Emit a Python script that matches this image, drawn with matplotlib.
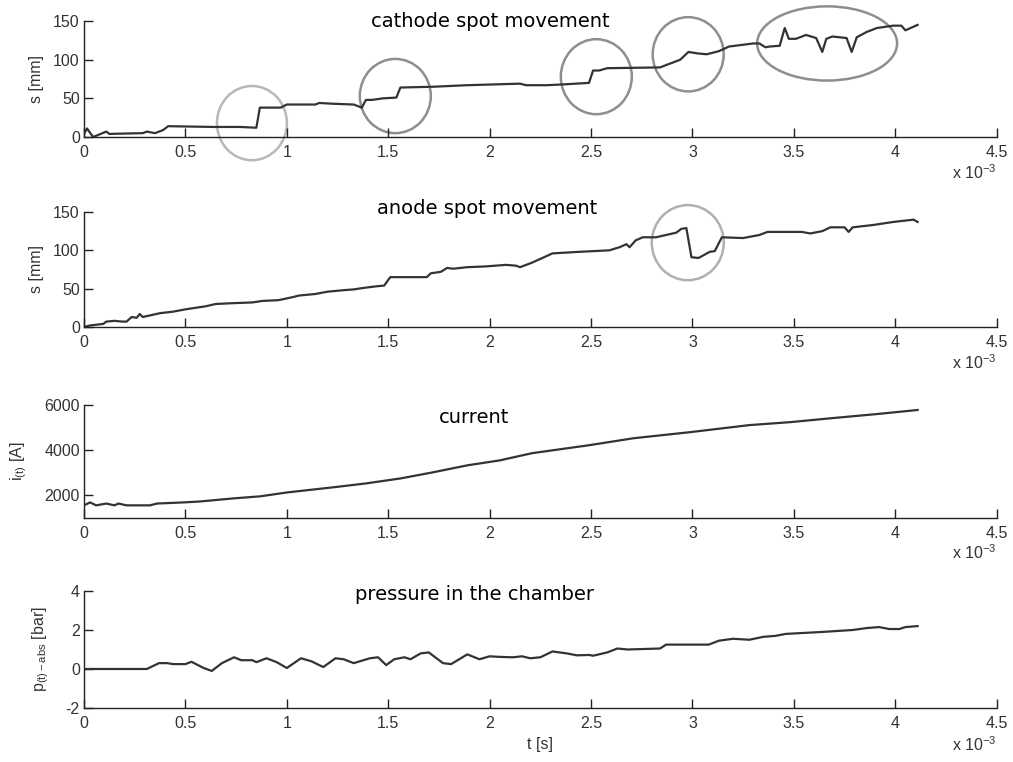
import numpy as np
import matplotlib
matplotlib.use("Agg")
import matplotlib.pyplot as plt
from matplotlib.patches import Ellipse

plt.rcParams['font.family'] = ['Liberation Sans', 'DejaVu Sans']
plt.rcParams['mathtext.fontset'] = 'custom'
plt.rcParams['mathtext.rm'] = 'Liberation Sans'
plt.rcParams['mathtext.it'] = 'Liberation Sans'
plt.rcParams['axes.unicode_minus'] = False

# time in ms (axis shows x 10^-3 s)
t_cath = [0, 0.015, 0.045, 0.11, 0.125, 0.29, 0.31, 0.35, 0.39, 0.415, 0.64, 0.77, 0.85,
          0.867, 0.97, 1.0, 1.14, 1.16, 1.23, 1.33, 1.37, 1.39, 1.42, 1.475, 1.54, 1.56,
          1.72, 1.89, 2.02, 2.15, 2.18, 2.28, 2.36, 2.49, 2.51, 2.54, 2.58, 2.84, 2.87,
          2.94, 2.98, 3.03, 3.07, 3.13, 3.18, 3.30, 3.33, 3.36, 3.38, 3.43, 3.455, 3.475,
          3.51, 3.56, 3.61, 3.64, 3.66, 3.69, 3.76, 3.785, 3.81, 3.86, 3.91, 3.99, 4.03,
          4.05, 4.11]
s_cath = [4, 11, 0, 7, 4, 5, 7, 5, 9, 14, 13, 13, 12,
          38, 38, 42, 42, 44, 43, 42, 38, 48, 48, 50, 51, 64,
          65, 67, 68, 69, 67, 67, 68, 70, 86, 86, 89, 90, 93,
          100, 110, 108, 107, 111, 117, 121, 121, 116, 117, 118, 141, 127,
          127, 132, 128, 110, 127, 130, 128, 110, 129, 136, 141, 144, 144,
          138, 145]

t_anod = [0, 0.03, 0.095, 0.11, 0.15, 0.19, 0.21, 0.235, 0.26, 0.275, 0.29, 0.375, 0.44,
          0.5, 0.6, 0.65, 0.73, 0.83, 0.88, 0.96, 1.03, 1.06, 1.14, 1.2, 1.28, 1.33, 1.38,
          1.44, 1.48, 1.51, 1.69, 1.71, 1.76, 1.79, 1.82, 1.89, 1.98, 2.08, 2.13, 2.15,
          2.21, 2.26, 2.31, 2.44, 2.59, 2.64, 2.675, 2.69, 2.72, 2.755, 2.82, 2.92, 2.945,
          2.97, 2.995, 3.03, 3.085, 3.11, 3.145, 3.25, 3.33, 3.37, 3.54, 3.58, 3.64, 3.68,
          3.75, 3.77, 3.79, 3.89, 3.99, 4.09, 4.11]
s_anod = [0, 2, 4, 7, 8, 7, 7, 13, 12, 17, 13, 18, 20,
          23, 27, 30, 31, 32, 34, 35, 39, 41, 43, 46, 48, 49, 51,
          53, 54, 65, 65, 70, 72, 77, 76, 78, 79, 81, 80, 78,
          84, 90, 96, 98, 100, 104, 108, 104, 113, 117, 117, 123, 128,
          129, 91, 90, 98, 99, 117, 116, 120, 124, 124, 122, 125, 130,
          130, 124, 130, 133, 137, 140, 137]

t_curr = [0, 0.03, 0.06, 0.11, 0.15, 0.17, 0.21, 0.325, 0.36, 0.49, 0.57, 0.74, 0.87, 1.0,
          1.23, 1.39, 1.56, 1.72, 1.89, 2.05, 2.21, 2.49, 2.71, 2.99, 3.28, 3.48, 3.69,
          3.91, 4.11]
i_curr = [1560, 1690, 1560, 1640, 1560, 1640, 1560, 1560, 1640, 1690, 1730, 1870, 1960, 2130,
          2360, 2530, 2750, 3020, 3330, 3550, 3870, 4220, 4530, 4800, 5110, 5240, 5420,
          5600, 5780]

t_pres = [0, 0.31, 0.33, 0.37, 0.41, 0.44, 0.5, 0.53, 0.59, 0.63, 0.68, 0.74, 0.775, 0.83,
          0.85, 0.9, 0.95, 1.0, 1.07, 1.12, 1.18, 1.24, 1.28, 1.33, 1.41, 1.45, 1.49, 1.53,
          1.58, 1.61, 1.66, 1.70, 1.77, 1.81, 1.89, 1.95, 2.0, 2.05, 2.115, 2.16, 2.2, 2.25,
          2.31, 2.38, 2.43, 2.49, 2.51, 2.58, 2.63, 2.68, 2.84, 2.87, 3.08, 3.13, 3.2, 3.28,
          3.35, 3.41, 3.46, 3.64, 3.79, 3.86, 3.92, 3.97, 4.02, 4.05, 4.11]
p_pres = [0, 0, 0.1, 0.3, 0.3, 0.25, 0.25, 0.37, 0.05, -0.1, 0.3, 0.6, 0.45, 0.45,
          0.35, 0.55, 0.35, 0.05, 0.55, 0.4, 0.1, 0.55, 0.5, 0.3, 0.55, 0.6, 0.2, 0.5,
          0.6, 0.5, 0.8, 0.85, 0.3, 0.25, 0.75, 0.5, 0.65, 0.62, 0.6, 0.65, 0.55, 0.6,
          0.9, 0.8, 0.7, 0.72, 0.68, 0.85, 1.05, 1.0, 1.05, 1.25, 1.25, 1.45, 1.55, 1.5,
          1.65, 1.7, 1.8, 1.9, 2.0, 2.1, 2.15, 2.05, 2.05, 2.15, 2.2]

# highlighted regions: (t centre, s centre, width, height, grey)
cath_marks = [(0.828, 18, 0.345, 96, '#b8b8b8'),
              (1.535, 53, 0.35, 96, '#8e8e8e'),
              (2.526, 78, 0.35, 97, '#8e8e8e'),
              (2.979, 107, 0.35, 96, '#8e8e8e'),
              (3.664, 121, 0.69, 96, '#8e8e8e')]
anod_marks = [(2.977, 110, 0.355, 98, '#b0b0b0')]

xticks = [0, 0.5, 1, 1.5, 2, 2.5, 3, 3.5, 4, 4.5]
xlabels = ['0', '0.5', '1', '1.5', '2', '2.5', '3', '3.5', '4', '4.5']

fig = plt.figure(figsize=(10.13, 7.62), dpi=100)
L, W = 0.0829, 0.901
rects = [(0.8202, 0.1522), (0.5709, 0.1509), (0.3202, 0.1483), (0.0709, 0.1535)]
axes = [fig.add_axes([L, b, W, h]) for b, h in rects]

line_kw = dict(color='#333333', lw=1.6)
axes[0].plot(t_cath, s_cath, **line_kw)
axes[1].plot(t_anod, s_anod, **line_kw)
axes[2].plot(t_curr, i_curr, **line_kw)
axes[3].plot(t_pres, p_pres, **line_kw)

for ax, marks in [(axes[0], cath_marks), (axes[1], anod_marks)]:
    for tc, sc, w, h, c in marks:
        ax.add_patch(Ellipse((tc, sc), w, h, fill=False, ec=c, lw=1.8, clip_on=False))

ylims = [(0, 150), (0, 150), (1000, 6000), (-2, 4)]
yticks = [[0, 50, 100, 150], [0, 50, 100, 150], [2000, 4000, 6000], [-2, 0, 2, 4]]
ylabels = ['s [mm]', 's [mm]', r'i$_{\mathregular{(t)}}$ [A]', r'p$_{\mathregular{(t)-abs}}$ [bar]']
ylab_x = [-0.052, -0.052, -0.071, -0.047]
titles = ['cathode spot movement', 'anode spot movement', 'current', 'pressure in the chamber']
title_pos = [(0.445, 1.0), (0.442, 1.026), (0.427, 0.885), (0.428, 0.974)]

for k, ax in enumerate(axes):
    ax.set_xlim(0, 4.5)
    ax.set_ylim(*ylims[k])
    ax.set_xticks(xticks)
    ax.set_xticklabels(xlabels)
    ax.set_yticks(yticks[k])
    for sp in ['top', 'right']:
        ax.spines[sp].set_visible(False)
    for sp in ['left', 'bottom']:
        ax.spines[sp].set_color('#222222')
        ax.spines[sp].set_linewidth(1.0)
    ax.tick_params(direction='in', length=6.5, width=1.0, color='#222222',
                   labelsize=11.5, labelcolor='#333333')
    ax.tick_params(axis='x', pad=6)
    ax.tick_params(axis='y', pad=3)
    ax.set_ylabel(ylabels[k], fontsize=11.5, color='#333333')
    ax.yaxis.set_label_coords(ylab_x[k], 0.5)
    ax.yaxis.label.set_verticalalignment('center')
    ax.text(title_pos[k][0], title_pos[k][1], titles[k], transform=ax.transAxes,
            ha='center', va='center', fontsize=14, family='DejaVu Sans', color='black')
    ax.text(1.0, -0.31, r'x 10$^{\mathregular{-3}}$', transform=ax.transAxes,
            ha='right', va='center', fontsize=11.5, color='#333333')

axes[3].set_xlabel('t [s]', fontsize=11.5, color='#333333', labelpad=4)

fig.savefig('out.png', dpi=100)
